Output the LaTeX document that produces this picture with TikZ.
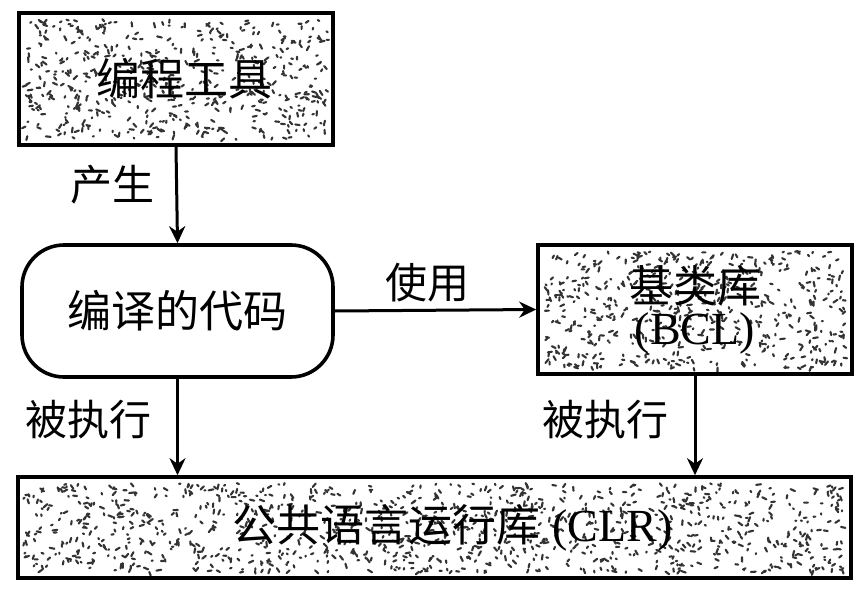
\documentclass[tikz,border=0pt]{standalone}
\usepackage{fontspec}
\newfontfamily\cjk{Noto Sans CJK SC}
\newfontfamily\lat{Liberation Serif}
\usetikzlibrary{arrows.meta}
\newcommand{\speckbox}[5]{%
  \foreach \k in {1,...,#5}{%
    \pgfmathsetmacro{\sx}{#1+6+rnd*(#3-#1-12)}%
    \pgfmathsetmacro{\sy}{#2+6+rnd*(#4-#2-12)}%
    \pgfmathsetmacro{\sa}{rnd*180}%
    \pgfmathsetmacro{\sl}{1+rnd*4}%
    \draw[speck] (\sx,\sy) -- ++(\sa:\sl);
  }}
\begin{document}
\begin{tikzpicture}[x=1pt,y=-1pt,
  speck/.style={line width=2.1pt,line cap=round,black!80},
  boxed/.style={draw,line width=3.6pt,inner sep=0pt,align=center},
  cjktext/.style={font=\cjk\fontsize{44}{48}\selectfont},
  lbl/.style={font=\cjk\fontsize{42}{46}\selectfont,inner sep=0pt},
  conn/.style={line width=3pt,-{Stealth[length=17pt,width=16pt]}}]
\useasboundingbox (0,0) rectangle (864,599);
\pgfmathsetseed{4242}
% textures
\speckbox{19}{13}{333}{145}{520}
\speckbox{538}{245}{852}{374}{520}
\speckbox{18}{477}{851}{578}{1050}
% boxes
\node[boxed,cjktext,minimum width=314pt,minimum height=132pt] (tools) at (176,79) {\hspace*{16pt}编程工具};
\node[boxed,cjktext,rounded corners=42pt,fill=white,minimum width=311pt,minimum height=132pt] (code) at (177.5,311) {编译的代码};
\node[boxed,cjktext,minimum width=314pt,minimum height=129pt] (bcl) at (695,309.5) {基类库\\[-6pt]{\lat\fontsize{46}{48}\selectfont(BCL)}};
\node[boxed,cjktext,minimum width=833pt,minimum height=101pt] (clr) at (434.5,527.5) {\hspace*{36pt}公共语言运行库\hspace{12pt}{\lat\fontsize{46}{48}\selectfont(CLR)}};
% connectors
\draw[conn] (tools.south) -- (code.north);
\draw[conn] (code.east) -- (bcl.west);
\draw[conn] (code.south) -- (code.south |- clr.north);
\draw[conn] (bcl.south) -- (bcl.south |- clr.north);
% labels
\node[lbl] (l1) at (112,185) {产生};
\node[lbl] (l2) at (427,283) {使用};
\node[lbl] (l3) at (88,420) {被执行};
\node[lbl] (l4) at (605,420) {被执行};
\end{tikzpicture}
\end{document}
